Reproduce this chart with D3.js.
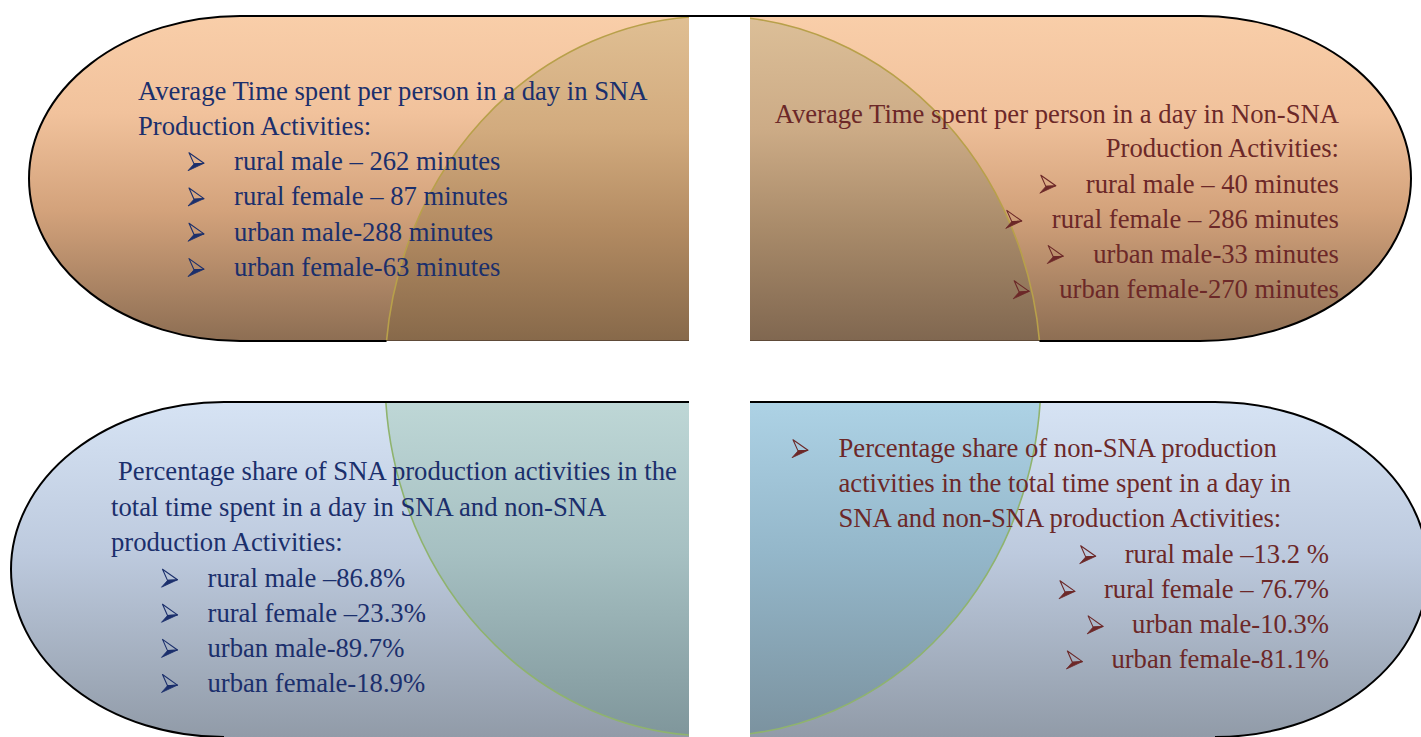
<!DOCTYPE html>
<html>
<head>
<script src="https://cdn.jsdelivr.net/npm/d3@7"></script>
<style>
  body { margin: 0; background: #fff; }
  svg { display: block; }
  text { font-family: "Times New Roman", "Liberation Serif", serif; font-size: 26.67px; }
</style>
</head>
<body>
<script>
// ---- data ----
var groups = ["rural male", "rural female", "urban male", "urban female"];
var snaMinutes = [262, 87, 288, 63];
var nonSnaMinutes = [40, 286, 33, 270];
var snaShare = [86.8, 23.3, 89.7, 18.9];
var nonSnaShare = [13.2, 76.7, 10.3, 81.1];

var tlTitle = ["Average Time spent per person in a day in SNA", "Production Activities:"];
var trTitle = ["Average Time spent per person in a day in Non-SNA", "Production Activities:"];
var blTitle = ["Percentage share of SNA production activities in the", "total time spent in a day in SNA and non-SNA", "production Activities:"];
var brTitle = ["Percentage share of non-SNA production", "activities in the total time spent in a day in", "SNA and non-SNA production Activities:"];

// separators as typed in the source
var tlSep = [" \u2013 ", " \u2013 ", "-", "-"];
var trSep = [" \u2013 ", " \u2013 ", "-", "-"];
var blSep = [" \u2013", " \u2013", "-", "-"];
var brSep = [" \u2013", " \u2013 ", "-", "-"];
var brUnit = [" %", "%", "%", "%"];

var width = 1421, height = 737;
var navy = "#1b2f6c", maroon = "#6c2828";

var svg = d3.select("body").append("svg")
  .attr("width", width)
  .attr("height", height);

var defs = svg.append("defs");

// ---- layout ----
var circ = { cx: 713, cy: 376, rx: 328, ry: 360 };
var quads = [
  { id: "tl", x0: 29, x1: 689, y0: 16, y1: 341, rx: 211, side: "left",
    fill: [[0, "#f9cea9"], [0.3, "#f1c29c"], [0.6, "#d3a27b"], [1, "#8d6e53"]],
    ring: [[0, "#e0bf93"], [0.35, "#d2ab7e"], [0.65, "#b38b62"], [1, "#87694a"]], ringStroke: "#b8a04a" },
  { id: "tr", x0: 750, x1: 1411, y0: 16, y1: 341, rx: 211, side: "right",
    fill: [[0, "#f9cea9"], [0.3, "#f1c29c"], [0.6, "#d3a27b"], [1, "#8d6e53"]],
    ring: [[0, "#dcbf98"], [0.35, "#ccab86"], [0.65, "#a98b6a"], [1, "#806750"]], ringStroke: "#b8a04a" },
  { id: "bl", x0: 11, x1: 689, y0: 402, y1: 737, rx: 213, side: "left",
    fill: [[0, "#d6e3f4"], [0.45, "#bdcade"], [1, "#919ba8"]],
    ring: [[0, "#bed7d6"], [0.45, "#a6c0c2"], [1, "#7f969b"]], ringStroke: "#8fb36e" },
  { id: "br", x0: 750, x1: 1428, y0: 402, y1: 737, rx: 213, side: "right",
    fill: [[0, "#d6e3f4"], [0.45, "#bdcade"], [1, "#919ba8"]],
    ring: [[0, "#add2e5"], [0.45, "#94b7ca"], [1, "#7b929f"]], ringStroke: "#8fb36e" }
];

function grad(id, q, stops) {
  var g = defs.append("linearGradient").attr("id", id)
    .attr("gradientUnits", "userSpaceOnUse")
    .attr("x1", 0).attr("y1", q.y0).attr("x2", 0).attr("y2", q.y1);
  stops.forEach(function(s) {
    g.append("stop").attr("offset", s[0]).attr("stop-color", s[1]);
  });
}

function circleX(y, dir) {
  var dy = (y - circ.cy) / circ.ry;
  return circ.cx + dir * circ.rx * Math.sqrt(1 - dy * dy);
}

quads.forEach(function(q) {
  var ry = (q.y1 - q.y0) / 2;
  if (q.side === "left") {
    q.cx = q.x0 + q.rx;
    q.shape = "M" + q.x1 + "," + q.y0 + " L" + q.cx + "," + q.y0 +
      " A" + q.rx + "," + ry + " 0 0 0 " + q.cx + "," + q.y1 + " L" + q.x1 + "," + q.y1 + " Z";
  } else {
    q.cx = q.x1 - q.rx;
    q.shape = "M" + q.x0 + "," + q.y0 + " L" + q.cx + "," + q.y0 +
      " A" + q.rx + "," + ry + " 0 0 1 " + q.cx + "," + q.y1 + " L" + q.x0 + "," + q.y1 + " Z";
  }
  q.ry = ry;
  grad("fill-" + q.id, q, q.fill);
  grad("ring-" + q.id, q, q.ring);
});

// outlines
var outline = {
  tl: function(q) {
    return "M" + circleX(q.y1, -1) + "," + q.y1 + " L" + q.cx + "," + q.y1 +
      " A" + q.rx + "," + q.ry + " 0 0 1 " + q.cx + "," + q.y0 + " L750," + q.y0;
  },
  tr: function(q) {
    return "M" + q.x0 + "," + q.y0 + " L" + q.cx + "," + q.y0 +
      " A" + q.rx + "," + q.ry + " 0 0 1 " + q.cx + "," + q.y1 + " L" + circleX(q.y1, 1) + "," + q.y1;
  },
  bl: function(q) {
    return "M" + q.x1 + "," + q.y0 + " L" + q.cx + "," + q.y0 +
      " A" + q.rx + "," + q.ry + " 0 0 0 " + q.cx + "," + q.y1;
  },
  br: function(q) {
    return "M" + q.x0 + "," + q.y0 + " L" + q.cx + "," + q.y0 +
      " A" + q.rx + "," + q.ry + " 0 0 1 " + q.cx + "," + q.y1;
  }
};

defs.selectAll("clipPath")
  .data(quads)
  .enter().append("clipPath")
  .attr("id", function(d) { return "clip-" + d.id; })
  .append("path")
  .attr("d", function(d) { return d.shape; });

var shapes = svg.append("g");

shapes.selectAll("path.quad")
  .data(quads)
  .enter().append("path")
  .attr("class", "quad")
  .attr("d", function(d) { return d.shape; })
  .attr("fill", function(d) { return "url(#fill-" + d.id + ")"; });

var rings = shapes.selectAll("g.ring")
  .data(quads)
  .enter().append("g")
  .attr("class", "ring")
  .attr("clip-path", function(d) { return "url(#clip-" + d.id + ")"; });

rings.append("ellipse")
  .attr("cx", circ.cx).attr("cy", circ.cy)
  .attr("rx", circ.rx).attr("ry", circ.ry)
  .attr("fill", function(d) { return "url(#ring-" + d.id + ")"; })
  .attr("stroke", function(d) { return d.ringStroke; })
  .attr("stroke-width", 1.6);

// thin edge under the top halves where the circle sits
shapes.selectAll("line.edge")
  .data(quads.filter(function(q) { return q.y0 < 100; }))
  .enter().append("line")
  .attr("class", "edge")
  .attr("x1", function(d) { return d.side === "left" ? circleX(d.y1, -1) : d.x0; })
  .attr("x2", function(d) { return d.side === "left" ? d.x1 : circleX(d.y1, 1); })
  .attr("y1", function(d) { return d.y1 - 0.5; })
  .attr("y2", function(d) { return d.y1 - 0.5; })
  .attr("stroke", "#5e4a38")
  .attr("stroke-width", 1);

shapes.selectAll("path.outline")
  .data(quads)
  .enter().append("path")
  .attr("class", "outline")
  .attr("d", function(d) { return outline[d.id](d); })
  .attr("fill", "none")
  .attr("stroke", "#000")
  .attr("stroke-width", 2);

// ---- text ----
function bullet(g, x, baseline, color) {
  var t = baseline - 17.3;
  g.append("path")
    .attr("d", "M" + (x + 1) + "," + t + " L" + (x + 16) + "," + (t + 10.6) + " L" + (x + 6) + "," + (t + 11.2) + " Z")
    .attr("fill", "none").attr("stroke", color).attr("stroke-width", 1.1).attr("stroke-linejoin", "round");
  g.append("path")
    .attr("d", "M" + (x + 6) + "," + (t + 11.2) + " L" + (x + 16) + "," + (t + 10.6) + " L" + x + "," + (t + 18) + " Z")
    .attr("fill", color).attr("stroke", color).attr("stroke-width", 0.8);
}

var txt = svg.append("g");

function items(sep, vals, unit) {
  return groups.map(function(gname, i) {
    return gname + sep[i] + vals[i] + (typeof unit === "string" ? unit : unit[i]);
  });
}

// top left
tlTitle.forEach(function(s, i) {
  txt.append("text").attr("x", 138).attr("y", [99.5, 135][i]).attr("fill", navy).text(s);
});
items(tlSep, snaMinutes, " minutes").forEach(function(s, i) {
  var y = 170 + i * 35.3;
  bullet(txt, 188, y, navy);
  txt.append("text").attr("x", 234).attr("y", y).attr("fill", navy).text(s);
});

// top right (right aligned)
trTitle.forEach(function(s, i) {
  txt.append("text").attr("x", 1339).attr("y", [123, 157][i]).attr("text-anchor", "end").attr("fill", maroon).text(s);
});
items(trSep, nonSnaMinutes, " minutes").forEach(function(s, i) {
  var y = 192.5 + i * 35.2;
  var t = txt.append("text").attr("x", 1339).attr("y", y).attr("text-anchor", "end").attr("fill", maroon).text(s);
  var w = t.node().getComputedTextLength();
  bullet(txt, 1339 - w - 46, y, maroon);
});

// bottom left
blTitle.forEach(function(s, i) {
  txt.append("text").attr("x", i === 0 ? 118 : 111).attr("y", [480, 515.5, 550.5][i]).attr("fill", navy).text(s);
});
items(blSep, snaShare.map(function(v) { return v.toFixed(1); }), "%").forEach(function(s, i) {
  var y = 586.5 + i * 35.1;
  bullet(txt, 161.5, y, navy);
  txt.append("text").attr("x", 207.5).attr("y", y).attr("fill", navy).text(s);
});

// bottom right
bullet(txt, 792, 457, maroon);
brTitle.forEach(function(s, i) {
  txt.append("text").attr("x", 838.5).attr("y", [457, 492, 527][i]).attr("fill", maroon).text(s);
});
items(brSep, nonSnaShare.map(function(v) { return v.toFixed(1); }), brUnit).forEach(function(s, i) {
  var y = 563 + i * 35.1;
  var t = txt.append("text").attr("x", 1329).attr("y", y).attr("text-anchor", "end").attr("fill", maroon).text(s);
  var w = t.node().getComputedTextLength();
  bullet(txt, 1329 - w - 45, y, maroon);
});
</script>
</body>
</html>
